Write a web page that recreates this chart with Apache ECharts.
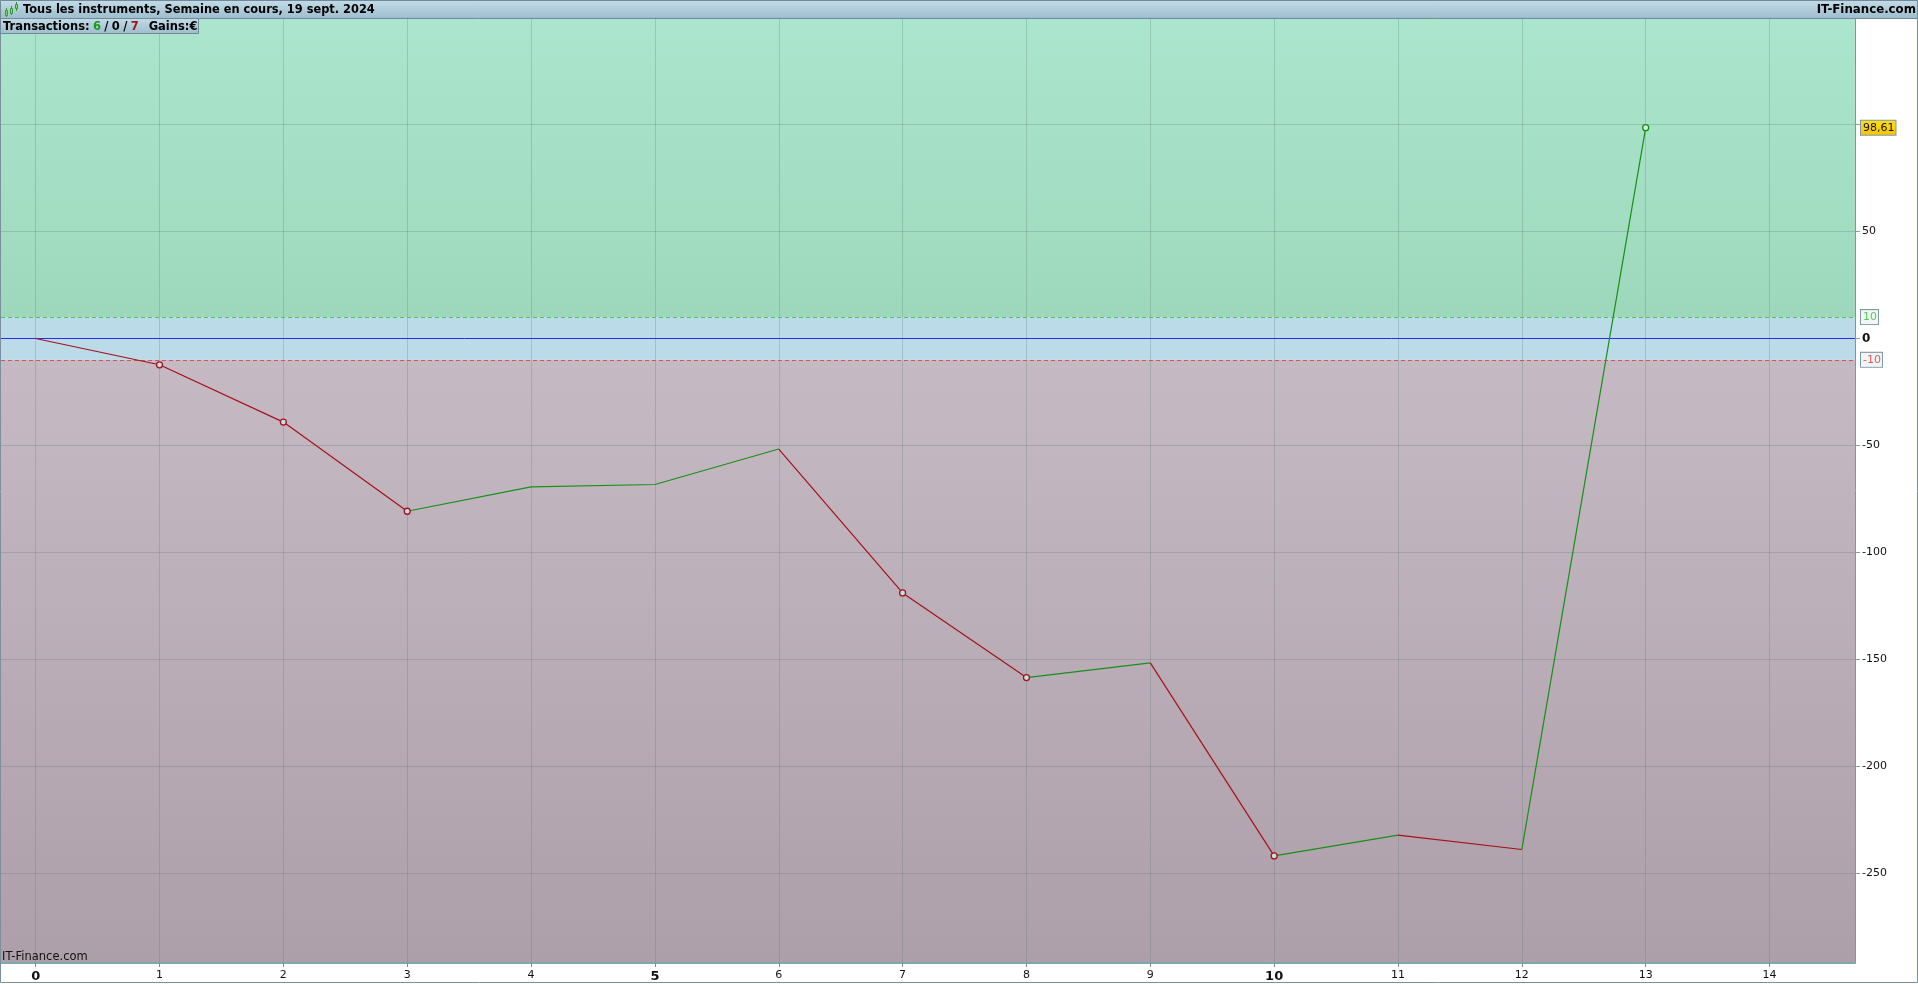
<!DOCTYPE html>
<html><head><meta charset="utf-8">
<style>html,body{margin:0;padding:0;background:#fff;overflow:hidden}#c{width:1918px;height:984px}</style>
<script src="https://cdn.jsdelivr.net/npm/echarts@6/dist/echarts.min.js"></script>
</head><body><div id="c"></div>
<script>
const xTicks = [0,1,2,3,4,5,6,7,8,9,10,11,12,13,14];
const yTicks = [-250,-200,-150,-100,-50,0,50,100];
const yLabels = [-250,-200,-150,-100,-50,0,50];
const equity = [0,-12.3,-39.1,-80.8,-69.4,-68.3,-51.7,-119,-158.6,-151.7,-242,-232.3,-239,98.61];
const closedLosses = [1,2,3,7,8,10];
const closedWins = [13];
const lastValue = 98.61;
const lastLabel = '98,61';
const upperBand = 10;
const lowerBand = -10;
const boldTicks = [0,5,10];
const titleText = 'Tous les instruments, Semaine en cours, 19 sept. 2024';
const brandText = 'IT-Finance.com';

const RED='#a8101a', GREEN='#179017';
const yMin=-292.1, yMax=149.9, xMin=-0.28, xMax=14.69;
const L=1, R=1855, T=18, B=963;

const segs=[];
for(let i=0;i<equity.length-1;){
  const up=equity[i+1]>=equity[i]; let j=i+1;
  while(j<equity.length-1 && (equity[j+1]>=equity[j])===up) j++;
  const pts=[]; for(let k=i;k<=j;k++) pts.push([k,equity[k]]);
  segs.push({up,pts}); i=j;
}
const lineSeries=segs.map(s=>({type:'line',data:s.pts,symbol:'none',z:5,silent:true,animation:false,
  lineStyle:{color:s.up?GREEN:RED,width:1.2}}));
const grad=(a,b)=>({type:'linear',x:0,y:0,x2:0,y2:1,colorStops:[{offset:0,color:a},{offset:1,color:b}]});
const boxLabel=(txt,col,bg,border)=>({show:true,position:'end',formatter:txt,color:col,fontSize:11,fontFamily:'DejaVu Sans',
  backgroundColor:bg,borderColor:border,borderWidth:1,padding:[2,1,1,2],distance:6});
const GRIDLINE='rgba(90,120,115,0.27)';
const candle=(x,y1,y2,by,bh)=>[
  {type:'line',z:22,shape:{x1:x,y1:y1,x2:x,y2:y2},style:{stroke:'#2f9a2f',lineWidth:1}},
  {type:'rect',z:22,shape:{x:x-1,y:by,width:2,height:bh},style:{fill:'#8fdc60',stroke:'#2f9a2f',lineWidth:1}}
];
const option={
  animation:false,backgroundColor:'#fff',
  grid:{left:L,right:1918-R,top:T,bottom:984-B,containLabel:false,show:false},
  xAxis:{type:'value',min:xMin,max:xMax,z:3,interval:1,
    axisLine:{show:true,onZero:false,lineStyle:{color:'#7fa6b4',width:2}},
    axisTick:{show:true,length:4,lineStyle:{color:'#888'},customValues:xTicks},
    splitLine:{show:false},
    axisLabel:{margin:7,customValues:xTicks,hideOverlap:false,formatter:v=>boldTicks.includes(v)?`{b|${v}}`:`{n|${v}}`,
      rich:{n:{fontSize:11,fontFamily:'DejaVu Sans',color:'#111'},b:{fontSize:13,fontWeight:'bold',fontFamily:'DejaVu Sans',color:'#111'}}}},
  yAxis:{type:'value',min:yMin,max:yMax,position:'right',z:3,
    axisLine:{show:true,onZero:false,lineStyle:{color:'#7a97a6',width:1}},
    axisTick:{show:true,length:5,lineStyle:{color:'#7fa69c'},customValues:yTicks},
    splitLine:{show:false},
    axisLabel:{margin:7,customValues:yLabels,formatter:v=>v===0?`{b|0}`:`{n|${v}}`,
      rich:{n:{fontSize:11,fontFamily:'DejaVu Sans',color:'#111'},b:{fontSize:12,fontWeight:'bold',fontFamily:'DejaVu Sans',color:'#111'}}}},
  series:[
    {type:'line',data:[],z:1,silent:true,
      markArea:{silent:true,z:1,data:[
        [{yAxis:upperBand,itemStyle:{color:grad('#abe5cd','#9ed8bc')}},{yAxis:yMax}],
        [{yAxis:lowerBand,itemStyle:{color:'#bbdbe8'}},{yAxis:upperBand}],
        [{yAxis:yMin,itemStyle:{color:grad('#c5bac4','#ad9fa9')}},{yAxis:lowerBand}]
      ]}},
    {type:'line',data:[],z:2,silent:true,
      markLine:{silent:true,symbol:'none',z:2,animation:false,data:
        xTicks.map(v=>({xAxis:v,label:{show:false},lineStyle:{color:GRIDLINE,width:1,type:'solid'}}))
        .concat([-250,-200,-150,-100,-50,50,100].map(v=>({yAxis:v,label:{show:false},lineStyle:{color:GRIDLINE,width:1,type:'solid'}})))
      }},
    {type:'line',data:[],z:3,silent:true,
      markLine:{silent:true,symbol:'none',z:3,animation:false,data:[
        {yAxis:0,label:{show:false},lineStyle:{color:'#2a2af0',width:1,type:'solid'}},
        {yAxis:upperBand,label:boxLabel(String(upperBand),'#55cc55','#f2f5f6','#7d99a5'),lineStyle:{color:'#55c055',width:1,type:[4,3]}},
        {yAxis:lowerBand,label:boxLabel(String(lowerBand),'#e05a5a','#f2f5f6','#7d99a5'),lineStyle:{color:'#c85a5a',width:1,type:[4,3]}},
        {yAxis:lastValue,label:boxLabel(lastLabel,'#111',grad('#ffdf1a','#f5c400'),'#7d99a5'),lineStyle:{color:'rgba(90,120,115,0)',width:1}}
      ]}},
    ...lineSeries,
    {type:'scatter',z:6,silent:true,symbol:'circle',symbolSize:6,data:closedLosses.map(i=>[i,equity[i]]),
      itemStyle:{color:'#bfe0e6',borderColor:RED,borderWidth:1.3,opacity:1}},
    {type:'scatter',z:6,silent:true,symbol:'circle',symbolSize:6,data:closedWins.map(i=>[i,equity[i]]),
      itemStyle:{color:'#d5f0e0',borderColor:GREEN,borderWidth:1.3,opacity:1}}
  ],
  graphic:[
    {type:'rect',z:20,shape:{x:0.5,y:0.5,width:1917,height:982},style:{fill:'none',stroke:'#7a909c',lineWidth:1}},
    {type:'rect',z:21,shape:{x:0.5,y:0.5,width:1917,height:18},style:{fill:grad('#c4dce8','#9cbccd'),stroke:'#72899a',lineWidth:1}},
    {type:'rect',z:21,shape:{x:0.5,y:18.5,width:198,height:15},style:{fill:grad('#c4dce8','#9cbccd'),stroke:'#72899a',lineWidth:1}},
    ...candle(6.5,8,17,10.5,5),
    ...candle(11.5,6,15,8.5,5),
    ...candle(16.5,2,11,4.5,4),
    {type:'text',z:22,style:{x:23,y:10,text:titleText,font:'bold 11.4px "DejaVu Sans"',fill:'#000',verticalAlign:'middle'}},
    {type:'text',z:22,style:{x:1916,y:10,text:brandText,font:'bold 11.8px "DejaVu Sans"',fill:'#000',align:'right',verticalAlign:'middle'}},
    {type:'text',z:22,style:{x:3,y:27,text:'{k|Transactions:} {g|6} {k|/} {k|0} {k|/} {r|7}   {k|Gains:}{k|€}',verticalAlign:'middle',
      rich:{k:{font:'bold 11.5px "DejaVu Sans"',fill:'#000'},g:{font:'bold 11.5px "DejaVu Sans"',fill:'#1a9a1a'},r:{font:'bold 11.5px "DejaVu Sans"',fill:'#a81020'}}}},
    {type:'text',z:22,style:{x:2,y:957,text:brandText,font:'11.5px "DejaVu Sans"',fill:'#111',verticalAlign:'middle'}}
  ]
};
const chart=echarts.init(document.getElementById('c'),null,{renderer:'canvas',width:1918,height:984});
chart.setOption(option);
</script></body></html>
